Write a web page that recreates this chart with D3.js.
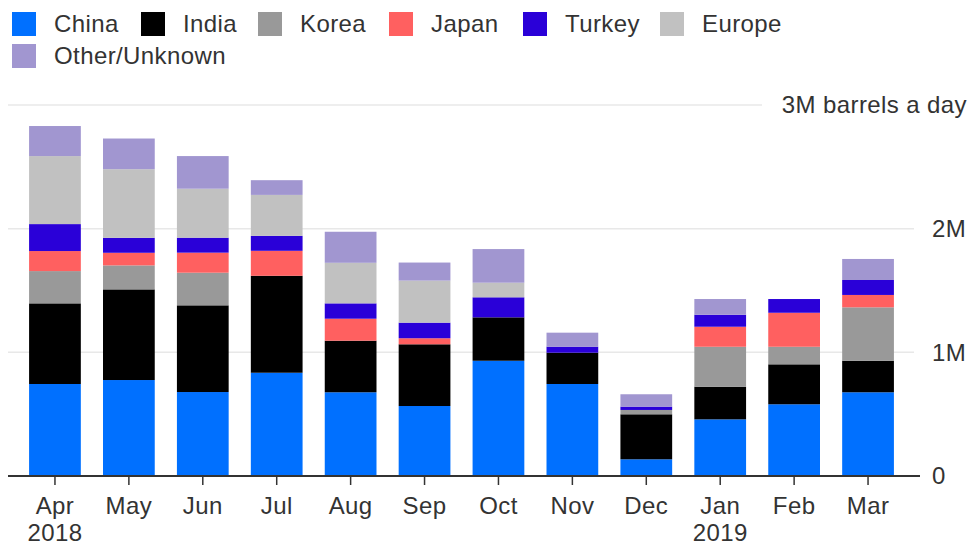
<!DOCTYPE html>
<html>
<head>
<meta charset="utf-8">
<script src="https://cdn.jsdelivr.net/npm/d3@7"></script>
<style>
  body { margin: 0; background: #fff; }
  svg { display: block; }
</style>
</head>
<body>
<div id="chart"></div>
<script>
const months = ["Apr", "May", "Jun", "Jul", "Aug", "Sep", "Oct", "Nov", "Dec", "Jan", "Feb", "Mar"];
const years = ["2018", "", "", "", "", "", "", "", "", "2019", "", ""];
const countries = ["China", "India", "Korea", "Japan", "Turkey", "Europe", "Other/Unknown"];
const colours = ["#0070ff", "#000000", "#999999", "#ff6060", "#2a00d8", "#c1c1c1", "#a196d0"];

// million barrels a day
const china  = [0.744, 0.776, 0.679, 0.835, 0.677, 0.566, 0.932, 0.744, 0.135, 0.458, 0.580, 0.677];
const india  = [0.652, 0.733, 0.701, 0.784, 0.417, 0.499, 0.351, 0.253, 0.364, 0.264, 0.323, 0.255];
const korea  = [0.261, 0.194, 0.264, 0,     0,     0,     0,     0,     0.035, 0.323, 0.142, 0.432];
const japan  = [0.162, 0.102, 0.162, 0.202, 0.178, 0.049, 0,     0,     0,     0.162, 0.275, 0.100];
const turkey = [0.218, 0.121, 0.121, 0.121, 0.124, 0.126, 0.162, 0.049, 0.027, 0.097, 0.111, 0.121];
const europe = [0.550, 0.555, 0.396, 0.331, 0.328, 0.340, 0.118, 0,     0,     0,     0,     0];
const other  = [0.243, 0.248, 0.264, 0.119, 0.251, 0.146, 0.272, 0.113, 0.100, 0.127, 0,     0.170];

const yTicks = [0, 1, 2, 3];
const yTickLabels = ["0", "1M", "2M", "3M barrels a day"];

const series = [china, india, korea, japan, turkey, europe, other];
const data = months.map((m, i) => {
    const row = { month: m, year: years[i] };
    countries.forEach((c, j) => row[c] = series[j][i]);
    return row;
});

const width = 973;
const height = 547;
const font = "'Liberation Sans', Arial, sans-serif";
const fontSize = "24px";
const spacing = "0.4px";
const textColour = "#333";
const plotLeft = 8, plotRight = 920, plotTop = 105, plotBottom = 476;

const svg = d3.select("#chart").append("svg")
    .attr("width", width)
    .attr("height", height);

const x = d3.scaleBand()
    .domain(months)
    .range([18, 905])
    .paddingInner(0.3)
    .paddingOuter(0.15);

const y = d3.scaleLinear()
    .domain([0, 3])
    .range([plotBottom, plotTop]);

// gridlines
svg.append("g")
    .selectAll("line")
    .data(yTicks.filter(d => d > 0))
    .enter()
    .append("line")
    .attr("x1", plotLeft)
    .attr("x2", d => d === 3 ? 762 : plotRight - 6)
    .attr("y1", d => y(d))
    .attr("y2", d => y(d))
    .attr("stroke", "#e8e8e8")
    .attr("stroke-width", 1.5);

// y labels
svg.append("g")
    .selectAll("text")
    .data(yTicks)
    .enter()
    .append("text")
    .attr("x", d => d === 3 ? 967 : 932)
    .attr("y", d => y(d))
    .attr("dy", "0.35em")
    .attr("text-anchor", d => d === 3 ? "end" : "start")
    .style("font-family", font)
    .style("font-size", fontSize)
    .style("letter-spacing", spacing)
    .attr("fill", textColour)
    .text((d, i) => yTickLabels[i]);

// stacked bars
const stack = d3.stack().keys(countries)(data);
svg.append("g")
    .selectAll("g")
    .data(stack)
    .enter()
    .append("g")
    .attr("fill", (d, i) => colours[i])
    .selectAll("rect")
    .data(d => d)
    .enter()
    .append("rect")
    .attr("x", d => x(d.data.month))
    .attr("y", d => y(d[1]))
    .attr("height", d => y(d[0]) - y(d[1]))
    .attr("width", x.bandwidth());

// x axis
const xAxis = svg.append("g")
    .attr("transform", `translate(0, ${plotBottom})`);
xAxis.append("line")
    .attr("x1", plotLeft)
    .attr("x2", plotRight)
    .attr("stroke", "#333")
    .attr("stroke-width", 2);
const ticks = xAxis.selectAll(".tick")
    .data(data)
    .enter()
    .append("g")
    .attr("class", "tick")
    .attr("transform", d => `translate(${x(d.month) + x.bandwidth() / 2}, 0)`);
ticks.append("line")
    .attr("y1", 0)
    .attr("y2", 9)
    .attr("stroke", "#333")
    .attr("stroke-width", 1.5);
ticks.append("text")
    .attr("y", 38)
    .attr("text-anchor", "middle")
    .style("font-family", font)
    .style("font-size", fontSize)
    .style("letter-spacing", spacing)
    .attr("fill", textColour)
    .text(d => d.month);
ticks.append("text")
    .attr("y", 65)
    .attr("text-anchor", "middle")
    .style("font-family", font)
    .style("font-size", fontSize)
    .style("letter-spacing", spacing)
    .attr("fill", textColour)
    .text(d => d.year);

// legend
const legendPos = [[12, 12], [141, 12], [258, 12], [389, 12], [523, 12], [660, 12], [12, 44]];
const legend = svg.append("g")
    .selectAll("g")
    .data(countries)
    .enter()
    .append("g")
    .attr("transform", (d, i) => `translate(${legendPos[i][0]}, ${legendPos[i][1]})`);
legend.append("rect")
    .attr("width", 24)
    .attr("height", 24)
    .attr("fill", (d, i) => colours[i]);
legend.append("text")
    .attr("x", 42)
    .attr("y", 12)
    .attr("dy", "0.35em")
    .style("font-family", font)
    .style("font-size", fontSize)
    .style("letter-spacing", spacing)
    .attr("fill", textColour)
    .text(d => d);
</script>
</body>
</html>
